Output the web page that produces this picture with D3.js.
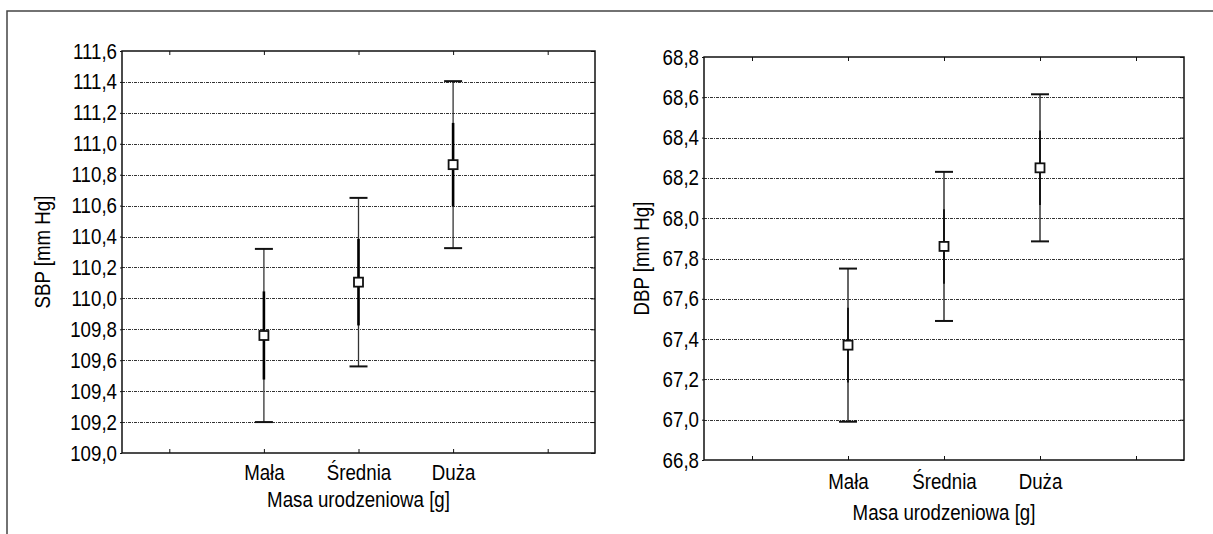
<!DOCTYPE html>
<html>
<head>
<meta charset="utf-8">
<script src="https://cdn.jsdelivr.net/npm/d3@7"></script>
<style>
  body { margin: 0; background: #fff; }
  svg text { font-family: "Liberation Sans", Arial, sans-serif; fill: #000; }
</style>
</head>
<body>
<div id="chart"></div>
<script>
// categories (birth weight groups)
const categories = ["Mała", "Średnia", "Duża"];

// SBP: means, standard error, 95% CI half-width
const sbpMean = [109.76, 110.105, 110.865];
const sbpSE = [0.285, 0.28, 0.27];
const sbpCI = [0.56, 0.545, 0.54];
const sbpTicks = [109.0, 109.2, 109.4, 109.6, 109.8, 110.0, 110.2, 110.4, 110.6, 110.8, 111.0, 111.2, 111.4, 111.6];

// DBP
const dbpMean = [67.37, 67.86, 68.25];
const dbpSE = [0.185, 0.185, 0.185];
const dbpCI = [0.38, 0.37, 0.365];
const dbpTicks = [66.8, 67.0, 67.2, 67.4, 67.6, 67.8, 68.0, 68.2, 68.4, 68.6, 68.8];

const width = 1213;
const height = 534;
const fontSize = "22px";
const squeeze = 0.85; // condensed look of the original font

const svg = d3
  .select("#chart")
  .append("svg")
  .attr("width", width)
  .attr("height", height);

// outer frame (only top and left are visible)
svg
  .append("path")
  .attr("d", "M7,534V11H1213")
  .attr("fill", "none")
  .attr("stroke", "#444")
  .attr("stroke-width", 1.5);

const commaFmt = (d) => d3.format(".1f")(d).replace(".", ",");

// squeeze text horizontally around its anchor point
const narrow = (sel) => {
  sel.each(function () {
    const t = d3.select(this);
    const x = +t.attr("x") || 0;
    const y = +t.attr("y") || 0;
    t.attr("x", 0).attr("y", 0).attr("transform", "translate(" + x + "," + y + ") scale(" + squeeze + ",1)");
  });
};

/*
 * Draws one panel with mean, SE and CI whiskers
 */
const drawPanel = (cfg) => {
  const { x0, x1, y0, y1, ticks, mean, se, ci, title, yTitleX, catY, titleY, thick, thin } = cfg;

  // five bands: empty, three categories, empty
  const keys = ["_l"].concat(categories, ["_r"]);
  const xScale = d3.scalePoint().domain(keys).range([x0, x1]).padding(0.5);
  const yScale = d3
    .scaleLinear()
    .domain([ticks[0], ticks[ticks.length - 1]])
    .range([y1, y0]);

  const g = svg.append("g");

  // gridlines
  g.selectAll("line.grid")
    .data(ticks.slice(1, -1))
    .enter()
    .append("line")
    .attr("class", "grid")
    .attr("x1", x0)
    .attr("x2", x1)
    .attr("y1", (d) => Math.round(yScale(d)) + 0.5)
    .attr("y2", (d) => Math.round(yScale(d)) + 0.5)
    .attr("stroke", "#333")
    .attr("stroke-width", 1)
    .attr("stroke-dasharray", "3,1,1,1");

  // y axis (left)
  const yAxis = d3.axisLeft(yScale).tickValues(ticks).tickFormat(commaFmt).tickSize(2).tickPadding(3);
  const ya = g.append("g").attr("transform", "translate(" + x0 + ",0)").call(yAxis);
  ya.select(".domain").remove();
  ya.selectAll("text").style("font-size", fontSize).call(narrow);

  // right side ticks pointing inwards
  const yAxisR = d3.axisLeft(yScale).tickValues(ticks).tickFormat("").tickSize(4);
  const yr = g.append("g").attr("transform", "translate(" + x1 + ",0)").call(yAxisR);
  yr.select(".domain").remove();

  // x axis (bottom) with ticks pointing up
  const xAxis = d3
    .axisBottom(xScale)
    .tickSize(-4)
    .tickFormat((d) => (d.charAt(0) === "_" ? "" : d));
  const xa = g.append("g").attr("transform", "translate(0," + y1 + ")").call(xAxis);
  xa.select(".domain").remove();
  xa.selectAll("text").style("font-size", fontSize).attr("y", catY - y1).attr("dy", 0).call(narrow);

  // top ticks pointing down
  const xAxisT = d3.axisTop(xScale).tickSize(-4).tickFormat("");
  const xt = g.append("g").attr("transform", "translate(0," + y0 + ")").call(xAxisT);
  xt.select(".domain").remove();

  g.selectAll(".tick line").attr("stroke", "#111");

  // plot box
  g.append("rect")
    .attr("x", x0)
    .attr("y", y0)
    .attr("width", x1 - x0)
    .attr("height", y1 - y0)
    .attr("fill", "none")
    .attr("stroke", "#111")
    .attr("stroke-width", 1.5);

  // axis titles
  g.append("text")
    .attr("x", (x0 + x1) / 2)
    .attr("y", titleY)
    .attr("text-anchor", "middle")
    .style("font-size", fontSize)
    .text("Masa urodzeniowa [g]")
    .call(narrow);

  g.append("text")
    .attr("transform", "translate(" + yTitleX + "," + (y0 + y1) / 2 + ") rotate(-90) scale(" + squeeze + ",1)")
    .attr("text-anchor", "middle")
    .style("font-size", fontSize)
    .text(title);

  const pts = categories.map((c, i) => ({ c: c, m: mean[i], se: se[i], ci: ci[i] }));

  // CI whiskers
  g.selectAll("line.ci")
    .data(pts)
    .enter()
    .append("line")
    .attr("x1", (d) => xScale(d.c))
    .attr("x2", (d) => xScale(d.c))
    .attr("y1", (d) => yScale(d.m + d.ci))
    .attr("y2", (d) => yScale(d.m - d.ci))
    .attr("stroke", "#333")
    .attr("stroke-width", thin);

  // SE segment
  g.selectAll("line.se")
    .data(pts)
    .enter()
    .append("line")
    .attr("x1", (d) => xScale(d.c))
    .attr("x2", (d) => xScale(d.c))
    .attr("y1", (d) => yScale(d.m + d.se))
    .attr("y2", (d) => yScale(d.m - d.se))
    .attr("stroke", "#000")
    .attr("stroke-width", thick);

  // caps
  [1, -1].forEach((s) => {
    g.selectAll(null)
      .data(pts)
      .enter()
      .append("line")
      .attr("x1", (d) => xScale(d.c) - 9)
      .attr("x2", (d) => xScale(d.c) + 9)
      .attr("y1", (d) => yScale(d.m + s * d.ci))
      .attr("y2", (d) => yScale(d.m + s * d.ci))
      .attr("stroke", "#111")
      .attr("stroke-width", 2);
  });

  // mean markers
  g.selectAll("rect.mean")
    .data(pts)
    .enter()
    .append("rect")
    .attr("x", (d) => xScale(d.c) - 4.5)
    .attr("y", (d) => yScale(d.m) - 4.5)
    .attr("width", 9)
    .attr("height", 9)
    .attr("fill", "#fff")
    .attr("stroke", "#111")
    .attr("stroke-width", 1.8);
};

drawPanel({
  x0: 122, x1: 595, y0: 51, y1: 453,
  ticks: sbpTicks, mean: sbpMean, se: sbpSE, ci: sbpCI,
  title: "SBP [mm Hg]", yTitleX: 50, catY: 480, titleY: 507, thick: 2.6, thin: 1.3
});

drawPanel({
  x0: 704, x1: 1184, y0: 57, y1: 460,
  ticks: dbpTicks, mean: dbpMean, se: dbpSE, ci: dbpCI,
  title: "DBP [mm Hg]", yTitleX: 649, catY: 489, titleY: 520, thick: 1.6, thin: 1.5
});
</script>
</body>
</html>
